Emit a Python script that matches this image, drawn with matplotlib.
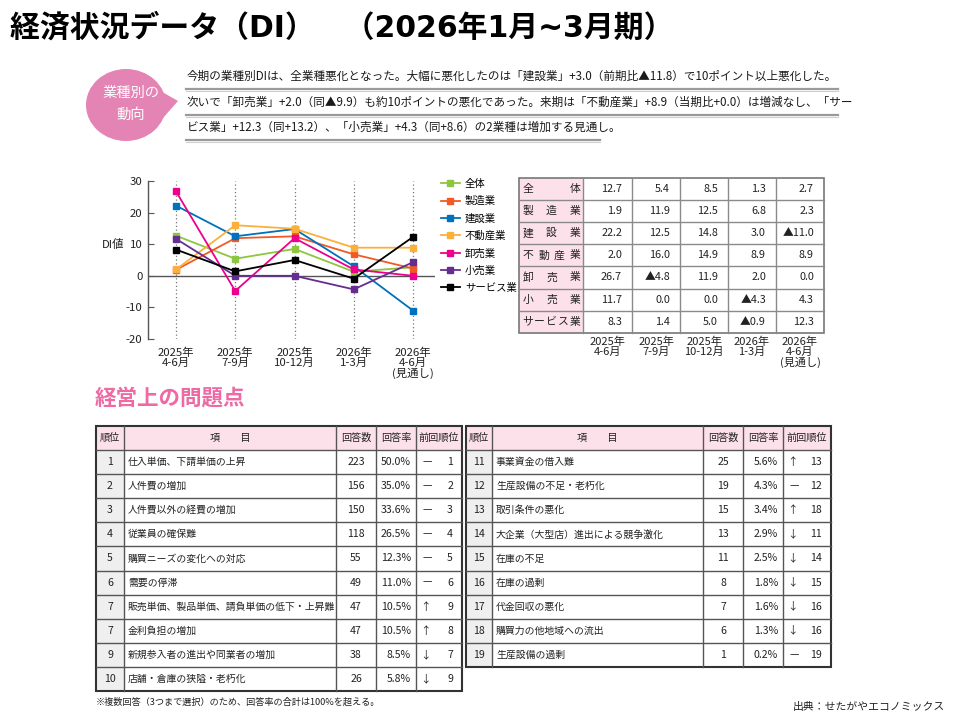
import numpy as np
import matplotlib
matplotlib.use("Agg")
import matplotlib.pyplot as plt
from matplotlib.patches import Rectangle, Ellipse, Polygon

plt.rcParams['font.family'] = ['Noto Sans CJK JP', 'DejaVu Sans']

# ---- data ----
periods = ["2025年\n4-6月", "2025年\n7-9月", "2025年\n10-12月", "2026年\n1-3月", "2026年\n4-6月\n(見通し)"]
industries = ["全体", "製造業", "建設業", "不動産業", "卸売業", "小売業", "サービス業"]
di_all = [12.7, 5.4, 8.5, 1.3, 2.7]
di_manu = [1.9, 11.9, 12.5, 6.8, 2.3]
di_const = [22.2, 12.5, 14.8, 3.0, -11.0]
di_real = [2.0, 16.0, 14.9, 8.9, 8.9]
di_whole = [26.7, -4.8, 11.9, 2.0, 0.0]
di_retail = [11.7, 0.0, 0.0, -4.3, 4.3]
di_serv = [8.3, 1.4, 5.0, -0.9, 12.3]
di_series = [di_all, di_manu, di_const, di_real, di_whole, di_retail, di_serv]
colors = ["#8dc63f", "#f15a24", "#0071bc", "#fbb03b", "#ec008c", "#662d91", "#000000"]

ranks = [1, 2, 3, 4, 5, 6, 7, 7, 9, 10, 11, 12, 13, 14, 15, 16, 17, 18, 19]
items = ["仕入単価、下請単価の上昇", "人件費の増加", "人件費以外の経費の増加", "従業員の確保難",
         "購買ニーズの変化への対応", "需要の停滞", "販売単価、製品単価、請負単価の低下・上昇難",
         "金利負担の増加", "新規参入者の進出や同業者の増加", "店舗・倉庫の狭隘・老朽化",
         "事業資金の借入難", "生産設備の不足・老朽化", "取引条件の悪化",
         "大企業（大型店）進出による競争激化", "在庫の不足", "在庫の過剰", "代金回収の悪化",
         "購買力の他地域への流出", "生産設備の過剰"]
counts = [223, 156, 150, 118, 55, 49, 47, 47, 38, 26, 25, 19, 15, 13, 11, 8, 7, 6, 1]
rates = [50.0, 35.0, 33.6, 26.5, 12.3, 11.0, 10.5, 10.5, 8.5, 5.8, 5.6, 4.3, 3.4, 2.9, 2.5, 1.8, 1.6, 1.3, 0.2]
prev_ranks = [1, 2, 3, 4, 5, 6, 9, 8, 7, 9, 13, 12, 18, 11, 14, 15, 16, 16, 19]

title = "経済状況データ（DI）　（2026年1月~3月期）"
summary = ["今期の業種別DIは、全業種悪化となった。大幅に悪化したのは「建設業」+3.0（前期比▲11.8）で10ポイント以上悪化した。",
           "次いで「卸売業」+2.0（同▲9.9）も約10ポイントの悪化であった。来期は「不動産業」+8.9（当期比+0.0）は増減なし、「サー",
           "ビス業」+12.3（同+13.2）、「小売業」+4.3（同+8.6）の2業種は増加する見通し。"]

PINK_HEAD = "#fde1ea"
LINE = "#555555"

fig = plt.figure(figsize=(9.58, 7.19), dpi=100)
bg = fig.add_axes([0, 0, 1, 1])
bg.set_xlim(0, 958)
bg.set_ylim(719, 0)
bg.axis('off')

# title (latin glyphs from DejaVu for the wider digits)
bg.text(10, 28, title, fontsize=21.5, fontweight='bold', va='center', ha='left',
        family=['DejaVu Sans', 'Noto Sans CJK JP'])

# bubble
bg.add_patch(Ellipse((126, 105), 80, 72, color="#e384b4", lw=0))
bg.add_patch(Polygon([(150, 85), (178, 101), (156, 126)], closed=True, color="#e384b4", lw=0))
bg.text(131, 93, "業種別の", color='white', fontsize=10.3, ha='center', va='center')
bg.text(131, 115, "動向", color='white', fontsize=10.3, ha='center', va='center')

# summary text with underlines
line_y = [76, 102, 127]
line_end = [838, 838, 600]
for s, y, xe in zip(summary, line_y, line_end):
    bg.text(187, y, s, fontsize=8.35, va='center', ha='left', color='#1a1a1a')
    bg.plot([186, xe], [y + 13, y + 13], color='#9a9a9a', lw=1.6)
    bg.plot([186, xe], [y + 14.5, y + 14.5], color='#cfcfcf', lw=0.8)

# ---- line chart ----
px0, px1 = 148, 435
py_top, py_bot = 181, 339
cat0, step = 176, 59.25
ax = fig.add_axes([px0 / 958, 1 - py_bot / 719, (px1 - px0) / 958, (py_bot - py_top) / 719])
ax.set_facecolor('none')
x = np.arange(len(periods))
ax.vlines(x, -20, 30, colors='#777777', linestyles=(0, (1, 2)), lw=0.9, zorder=1)
ax.axhline(0, color='#555555', lw=1.0, zorder=1)
for name, vals, c in zip(industries, di_series, colors):
    ax.plot(x, vals, color=c, lw=1.3, marker='s', ms=4.5, label=name, zorder=3)
ax.set_xlim(-(cat0 - px0) / step, 4 + (px1 - cat0 - 4 * step) / step)
ax.set_ylim(-20, 30)
ax.set_yticks([30, 20, 10, 0, -10, -20])
ax.set_yticklabels(["30", "20", "10", "0", "-10", "-20"])
ax.set_xticks(x)
ax.set_xticklabels(periods, fontsize=8.2, linespacing=0.97, color='#222222')
ax.tick_params(axis='x', length=0, pad=6.5)
ax.tick_params(axis='y', direction='in', length=4, width=0.8, color='#555555', labelsize=8.2,
               labelcolor='#222222', pad=4)
for s in ['top', 'right', 'bottom']:
    ax.spines[s].set_visible(False)
ax.spines['left'].set_color('#555555')
ax.spines['left'].set_linewidth(1.0)
fig.text(113 / 958, 1 - 244 / 719, "DI値", fontsize=8.2, ha='center', va='center', color='#222222')
ax.legend(loc='upper left', bbox_to_anchor=(441 / 958, 1 - 179 / 719), bbox_transform=fig.transFigure,
          frameon=False, fontsize=7.5, handlelength=1.8, handletextpad=0.5, labelspacing=0.68,
          borderpad=0, borderaxespad=0)

# ---- DI table ----
di_cols = [519, 583, 632, 680, 728, 776, 824]
di_top, di_rh = 178, 22.1


def fmt_di(v):
    return "▲%.1f" % abs(v) if v < 0 else "%.1f" % v


for r, (name, vals) in enumerate(zip(industries, di_series)):
    y0 = di_top + r * di_rh
    bg.add_patch(Rectangle((di_cols[0], y0), di_cols[1] - di_cols[0], di_rh, facecolor=PINK_HEAD,
                           edgecolor='none'))
    xs = np.linspace(528, 575, len(name))
    for ch, xc in zip(name, xs):
        bg.text(xc, y0 + di_rh / 2, ch, fontsize=7.8, ha='center', va='center', color='#222222')
    for c, v in enumerate(vals):
        bg.text(di_cols[c + 2] - 10, y0 + di_rh / 2, fmt_di(v), fontsize=7.8, ha='right', va='center',
                color='#222222')
di_bot = di_top + len(industries) * di_rh
for r in range(1, len(industries)):
    yy = di_top + r * di_rh
    bg.plot([di_cols[0], di_cols[-1]], [yy, yy], color='#8a8a8a', lw=1.0)
for xx in di_cols[1:-1]:
    bg.plot([xx, xx], [di_top, di_bot], color='#8a8a8a', lw=1.0)
bg.add_patch(Rectangle((di_cols[0], di_top), di_cols[-1] - di_cols[0], di_bot - di_top,
                       facecolor='none', edgecolor='#777777', lw=1.2))
for c, p in enumerate(periods):
    bg.text((di_cols[c + 1] + di_cols[c + 2]) / 2, di_bot + 4, p, fontsize=8, ha='center', va='top',
            linespacing=0.95, color='#222222')

# ---- problems heading ----
bg.text(95, 399, "経営上の問題点", fontsize=15.5, fontweight='bold', color='#ee6aa5', va='center')

# ---- problems table ----
tbl_top, head_h, row_h = 426, 24, 24.1
headers = ["順位", "項　　目", "回答数", "回答率", "前回順位"]


def draw_table(cols, idx):
    n = len(idx)
    bot = tbl_top + head_h + n * row_h
    bg.add_patch(Rectangle((cols[0], tbl_top), cols[-1] - cols[0], head_h, facecolor=PINK_HEAD,
                           edgecolor='none'))
    bg.add_patch(Rectangle((cols[0], tbl_top + head_h), cols[1] - cols[0], n * row_h,
                           facecolor='#efefef', edgecolor='none'))
    for c, h in enumerate(headers):
        bg.text((cols[c] + cols[c + 1]) / 2, tbl_top + head_h / 2, h, fontsize=7.3, ha='center',
                va='center', color='#222222')
    for k, i in enumerate(idx):
        yc = tbl_top + head_h + (k + 0.5) * row_h
        bg.text((cols[0] + cols[1]) / 2, yc, str(ranks[i]), fontsize=7.6, ha='center', va='center',
                color='#222222')
        bg.text(cols[1] + 4, yc, items[i], fontsize=7.1, ha='left', va='center', color='#222222')
        bg.text((cols[2] + cols[3]) / 2, yc, str(counts[i]), fontsize=7.6, ha='center', va='center',
                color='#222222')
        bg.text(cols[4] - 5, yc, "%.1f%%" % rates[i], fontsize=7.6, ha='right', va='center',
                color='#222222')
        if ranks[i] < prev_ranks[i]:
            bg.text(cols[4] + 9, yc, "↑", fontsize=7.6, ha='center', va='center', color='#222222')
        elif ranks[i] > prev_ranks[i]:
            bg.text(cols[4] + 9, yc, "↓", fontsize=7.6, ha='center', va='center', color='#222222')
        else:
            bg.text(cols[4] + 7, yc, "—", fontsize=7.6, ha='left', va='center', color='#222222')
        bg.text(cols[5] - 9, yc, str(prev_ranks[i]), fontsize=7.6, ha='right', va='center',
                color='#222222')
    for k in range(n):
        yy = tbl_top + head_h + k * row_h
        bg.plot([cols[0], cols[-1]], [yy, yy], color=LINE, lw=1.0)
    for xx in cols[1:-1]:
        bg.plot([xx, xx], [tbl_top, bot], color=LINE, lw=1.0)
    return bot


l_cols = [96, 124, 336, 376, 416, 462]
r_cols = [466, 492, 703, 743, 783, 831]
l_bot = draw_table(l_cols, range(0, 10))
r_bot = draw_table(r_cols, range(10, 19))
bg.add_patch(Rectangle((l_cols[0], tbl_top), l_cols[-1] - l_cols[0], l_bot - tbl_top,
                       facecolor='none', edgecolor='#333333', lw=1.5))
bg.add_patch(Rectangle((r_cols[0], tbl_top), r_cols[-1] - r_cols[0], r_bot - tbl_top,
                       facecolor='none', edgecolor='#333333', lw=1.5))

bg.text(96, 702, "※複数回答（3つまで選択）のため、回答率の合計は100%を超える。", fontsize=6.6, va='center',
        color='#222222')
bg.text(945, 707, "出典：せたがやエコノミックス", fontsize=7.8, va='center', ha='right', color='#222222')

fig.savefig("out.png", dpi=100)
